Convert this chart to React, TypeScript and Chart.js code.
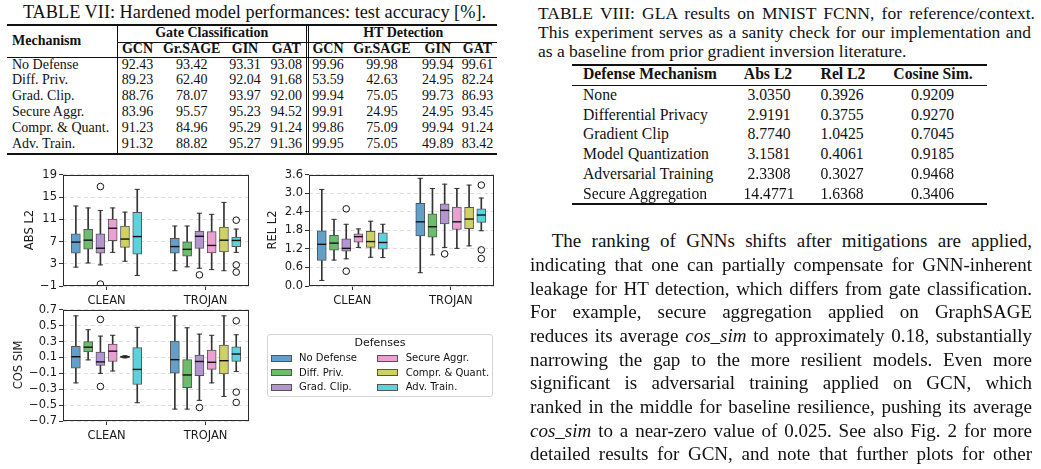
import React, { useEffect, useRef } from 'react';
import { Chart, registerables } from 'chart.js';
Chart.register(...registerables);

// ---------------- DATA ----------------
const groups = ['CLEAN', 'TROJAN'];
const defenses = ['No Defense', 'Diff. Priv.', 'Grad. Clip.', 'Secure Aggr.', 'Compr. & Quant.', 'Adv. Train.'];

// five-number summaries per defense: [lowWhisker, q1, median, q3, highWhisker]
const absL2Clean = [
  [2.4, 4.9, 6.9, 8.4, 13.4],
  [3.15, 5.65, 7.25, 9.2, 13.05],
  [2.8, 4.9, 5.8, 8.4, 12.6],
  [5.05, 7.15, 9.4, 11.05, 13.05],
  [3.45, 5.95, 7.45, 9.8, 12.3],
  [0.9, 4.75, 7.9, 12.25, 16.4],
];
const absL2Trojan = [
  [1.75, 4.9, 6.1, 7.6, 9.8],
  [2.45, 4.35, 5.6, 6.95, 9.8],
  [2.2, 5.75, 7.95, 8.9, 12.1],
  [1.95, 4.95, 6.3, 8.8, 11.9],
  [1.75, 5.15, 7.25, 9.6, 14.05],
  [5.05, 6.1, 7.2, 7.8, 9.25],
];
const absL2OutliersClean = [[], [], [16.9, -0.65], [], [], []];
const absL2OutliersTrojan = [[], [], [1.0], [], [], [10.85, 2.8, 1.5]];
const absL2Ticks = [-1, 3, 7, 11, 15, 19];

const relL2Clean = [
  [0.18, 0.83, 1.35, 1.79, 3.13],
  [0.84, 1.16, 1.39, 1.645, 2.16],
  [0.88, 1.13, 1.22, 1.53, 2.0],
  [1.25, 1.42, 1.6, 1.69, 1.85],
  [0.93, 1.25, 1.44, 1.77, 2.1],
  [0.92, 1.19, 1.41, 1.72, 2.0],
];
const relL2Trojan = [
  [0.43, 1.62, 2.08, 2.68, 3.49],
  [1.01, 1.58, 1.92, 2.34, 3.16],
  [1.25, 2.01, 2.45, 2.66, 3.3],
  [1.22, 1.83, 2.08, 2.56, 3.16],
  [1.3, 1.86, 2.17, 2.55, 3.27],
  [1.79, 2.06, 2.3, 2.5, 2.85],
];
const relL2OutliersClean = [[], [], [2.5, 0.48], [], [], []];
const relL2OutliersTrojan = [[], [], [1.04], [], [], [3.27, 1.17, 0.89]];
const relL2Ticks = [0, 0.6, 1.2, 1.8, 2.4, 3.0, 3.6];

const cosSimClean = [
  [-0.22, -0.035, 0.11, 0.24, 0.625],
  [0.07, 0.17, 0.23, 0.3, 0.45],
  [-0.1, 0.0, 0.045, 0.17, 0.37],
  [-0.07, 0.05, 0.18, 0.27, 0.38],
  [0.095, 0.1, 0.108, 0.117, 0.123],
  [-0.47, -0.24, -0.05, 0.225, 0.48],
];
const cosSimTrojan = [
  [-0.55, -0.098, 0.073, 0.307, 0.625],
  [-0.55, -0.28, -0.12, 0.073, 0.475],
  [-0.44, -0.13, 0.05, 0.13, 0.395],
  [-0.22, -0.05, 0.04, 0.194, 0.38],
  [-0.39, -0.106, 0.06, 0.257, 0.625],
  [-0.077, 0.052, 0.144, 0.236, 0.387],
];
const cosSimOutliersClean = [[], [], [0.58, -0.265], [], [], []];
const cosSimOutliersTrojan = [[], [], [-0.53], [], [], [0.562, -0.336, -0.466]];
const cosSimTicks = [-0.7, -0.5, -0.3, -0.1, 0.1, 0.3, 0.5, 0.7];

// Table VII
const table7Mechanisms = ['No Defense', 'Diff. Priv.', 'Grad. Clip.', 'Secure Aggr.', 'Compr. & Quant.', 'Adv. Train.'];
const table7Models = ['GCN', 'Gr.SAGE', 'GIN', 'GAT'];
const gateAccuracy = [
  [92.43, 93.42, 93.31, 93.08],
  [89.23, 62.4, 92.04, 91.68],
  [88.76, 78.07, 93.97, 92.0],
  [83.96, 95.57, 95.23, 94.52],
  [91.23, 84.96, 95.29, 91.24],
  [91.32, 88.82, 95.27, 91.36],
];
const htAccuracy = [
  [99.96, 99.98, 99.94, 99.61],
  [53.59, 42.63, 24.95, 82.24],
  [99.94, 75.05, 99.73, 86.93],
  [99.91, 24.95, 24.95, 93.45],
  [99.86, 75.09, 99.94, 91.24],
  [99.95, 75.05, 49.89, 83.42],
];

// Table VIII
const glaMechanisms = ['None', 'Differential Privacy', 'Gradient Clip', 'Model Quantization', 'Adversarial Training', 'Secure Aggregation'];
const glaAbsL2 = ['3.0350', '2.9191', '8.7740', '3.1581', '2.3308', '14.4771'];
const glaRelL2 = ['0.3926', '0.3755', '1.0425', '0.4061', '0.3027', '1.6368'];
const glaCosSim = ['0.9209', '0.9270', '0.7045', '0.9185', '0.9468', '0.3406'];

// ---------------- STYLE ----------------
const defenseColors = [
  'rgb(98,160,203)',
  'rgb(107,189,107)',
  'rgb(180,149,209)',
  'rgb(235,160,212)',
  'rgb(208,209,100)',
  'rgb(93,210,221)',
];
const serif = '"Liberation Serif","Times New Roman",serif';
const sans = '"DejaVu Sans",sans-serif';
const HUE_STEP = 0.124;
const X_MIN = -0.44;
const X_MAX = 1.44;

const framePlugin = {
  id: 'frame',
  afterDatasetsDraw(chart: any) {
    const { ctx, chartArea } = chart;
    const l = Math.round(chartArea.left) + 0.5;
    const t = Math.round(chartArea.top) + 0.5;
    const r = Math.round(chartArea.right) - 0.5;
    const b = Math.round(chartArea.bottom) - 0.5;
    ctx.save();
    ctx.strokeStyle = '#2a2a2a';
    ctx.lineWidth = 1;
    ctx.strokeRect(l, t, r - l, b - t);
    ctx.restore();
  },
};

function fmtTick(v: number, decimals: number) {
  const s = Math.abs(v).toFixed(decimals);
  return v < -1e-9 ? '\u2212' + s : s;
}

type Spec = {
  clean: number[][];
  trojan: number[][];
  outClean: number[][];
  outTrojan: number[][];
  ticks: number[];
  decimals: number;
};

function BoxPlot({ spec, left, top, width, height }: { spec: Spec; left: number; top: number; width: number; height: number }) {
  const ref = useRef<HTMLCanvasElement>(null);
  useEffect(() => {
    if (!ref.current) return;
    const stats = [spec.clean, spec.trojan];
    const outs = [spec.outClean, spec.outTrojan];
    const xOf = (g: number, d: number) => g + (d - 2.5) * HUE_STEP;
    const boxSets: any[] = defenses.map((name, d) => ({
      type: 'bar',
      label: name,
      order: 2,
      grouped: false,
      barThickness: 9,
      backgroundColor: defenseColors[d],
      borderColor: '#555555',
      borderWidth: 1,
      borderSkipped: false,
      data: stats.map((s, g) => ({ x: xOf(g, d), y: [s[d][1], s[d][3]] })),
    }));
    const whiskers: any = {
      type: 'bar',
      label: 'whiskers',
      order: 3,
      grouped: false,
      barThickness: 1,
      backgroundColor: '#333333',
      borderWidth: 0,
      data: stats.flatMap((s, g) => s.map((b, d) => ({ x: xOf(g, d), y: [b[0], b[4]] }))),
    };
    const caps: any = {
      type: 'scatter',
      label: 'caps',
      order: 1,
      pointStyle: 'line',
      pointRadius: 2.6,
      borderColor: '#333333',
      pointBorderColor: '#333333',
      pointBorderWidth: 1,
      data: stats.flatMap((s, g) => s.flatMap((b, d) => [{ x: xOf(g, d), y: b[0] }, { x: xOf(g, d), y: b[4] }])),
    };
    const medians: any = {
      type: 'scatter',
      label: 'medians',
      order: 0,
      pointStyle: 'line',
      pointRadius: 4.5,
      borderColor: '#111111',
      pointBorderColor: '#111111',
      pointBorderWidth: 1.4,
      data: stats.flatMap((s, g) => s.map((b, d) => ({ x: xOf(g, d), y: b[2] }))),
    };
    const fliers: any = {
      type: 'scatter',
      label: 'outliers',
      order: 0,
      pointStyle: 'circle',
      pointRadius: 3.3,
      borderColor: '#111111',
      pointBorderColor: '#111111',
      pointBorderWidth: 1,
      pointBackgroundColor: 'rgba(255,255,255,0)',
      backgroundColor: 'rgba(255,255,255,0)',
      data: outs.flatMap((o, g) => o.flatMap((vals, d) => vals.map((v) => ({ x: xOf(g, d), y: v })))),
    };
    const tickFont = { family: 'DejaVu Sans', size: 11.5 };
    const chart = new Chart(ref.current, {
      type: 'bar',
      data: { datasets: [...boxSets, whiskers, caps, medians, fliers] },
      options: {
        animation: false,
        responsive: false,
        events: [],
        layout: { padding: { top: 8, right: 3, bottom: 0, left: 0 } },
        plugins: { legend: { display: false }, tooltip: { enabled: false } },
        scales: {
          x: {
            type: 'linear',
            min: X_MIN,
            max: X_MAX,
            offset: false,
            afterBuildTicks: (s: any) => {
              s.ticks = groups.map((_, i) => ({ value: i }));
            },
            afterFit: (s: any) => {
              s.height = 24;
            },
            ticks: {
              autoSkip: false,
              maxRotation: 0,
              padding: 4,
              color: '#1a1a1a',
              font: tickFont,
              callback: (v: any) => groups[Math.round(Number(v))] ?? '',
            },
            grid: { drawOnChartArea: false, drawTicks: true, tickLength: 4, tickColor: '#333333', offset: false },
            border: { display: false },
          },
          y: {
            type: 'linear',
            min: spec.ticks[0],
            max: spec.ticks[spec.ticks.length - 1],
            afterBuildTicks: (s: any) => {
              s.ticks = spec.ticks.map((v) => ({ value: v }));
            },
            afterFit: (s: any) => {
              s.width = 55;
            },
            ticks: {
              autoSkip: false,
              padding: 2,
              color: '#1a1a1a',
              font: tickFont,
              callback: (v: any) => fmtTick(Number(v), spec.decimals),
            },
            grid: { color: '#d6d6d6', lineWidth: 0.8, drawTicks: true, tickLength: 4, tickColor: '#333333', tickWidth: 1 },
            border: { display: false, dash: [4, 3] },
          },
        },
      } as any,
      plugins: [framePlugin],
    });
    return () => chart.destroy();
  }, [spec]);
  return (
    <canvas
      ref={ref}
      width={width}
      height={height}
      style={{ position: 'absolute', left, top, width, height }}
    />
  );
}

function Txt({ x, y, size, children, bold = false, align = 'left', w = 0, family = serif, indent = 0 }: any) {
  const lh = size * 1.2;
  const style: any = {
    position: 'absolute',
    top: y - lh / 2,
    fontSize: size,
    lineHeight: lh + 'px',
    fontFamily: family,
    fontWeight: bold ? 700 : 400,
    color: '#111',
    whiteSpace: 'nowrap',
  };
  if (align === 'left') style.left = x;
  else if (align === 'center') {
    style.left = x - 300;
    style.width = 600;
    style.textAlign = 'center';
  } else if (align === 'justify') {
    style.left = x;
    style.width = w;
    style.textAlign = 'justify';
    style.textAlignLast = 'justify';
    style.whiteSpace = 'normal';
    style.textIndent = indent;
  }
  return <div style={style}>{children}</div>;
}

function VLabel({ x, y, text }: any) {
  return (
    <div
      style={{
        position: 'absolute',
        left: x - 60,
        top: y - 8,
        width: 120,
        height: 16,
        lineHeight: '16px',
        textAlign: 'center',
        fontFamily: sans,
        fontSize: 11.5,
        color: '#1a1a1a',
        transform: 'rotate(-90deg)',
        whiteSpace: 'nowrap',
      }}
    >
      {text}
    </div>
  );
}

function HRule({ x1, x2, y, t }: any) {
  return <div style={{ position: 'absolute', left: x1, width: x2 - x1, top: y - t / 2, height: t, background: '#111' }} />;
}
function VRule({ x, y1, y2, t }: any) {
  return <div style={{ position: 'absolute', left: x - t / 2, width: t, top: y1, height: y2 - y1, background: '#111' }} />;
}

const absSpec: Spec = { clean: absL2Clean, trojan: absL2Trojan, outClean: absL2OutliersClean, outTrojan: absL2OutliersTrojan, ticks: absL2Ticks, decimals: 0 };
const relSpec: Spec = { clean: relL2Clean, trojan: relL2Trojan, outClean: relL2OutliersClean, outTrojan: relL2OutliersTrojan, ticks: relL2Ticks, decimals: 1 };
const cosSpec: Spec = { clean: cosSimClean, trojan: cosSimTrojan, outClean: cosSimOutliersClean, outTrojan: cosSimOutliersTrojan, ticks: cosSimTicks, decimals: 1 };

const t7Cols = [137.5, 191.7, 245, 286.3, 328, 382, 437.8, 477.5];
const t7Rows = [65.7, 80.7, 96.7, 112.3, 128.3, 144];
const t8Rows = [95, 115, 134.3, 154, 174, 194.3];

const bodyLines: any[] = [
  'The ranking of GNNs shifts after mitigations are applied,',
  'indicating that one can partially compensate for GNN-inherent',
  'leakage for HT detection, which differs from gate classification.',
  'For example, secure aggregation applied on GraphSAGE',
  <>reduces its average <i>cos_sim</i> to approximately 0.18, substantially</>,
  'narrowing the gap to the more resilient models. Even more',
  'significant is adversarial training applied on GCN, which',
  'ranked in the middle for baseline resilience, pushing its average',
  <><i>cos_sim</i> to a near-zero value of 0.025. See also Fig. 2 for more</>,
  'detailed results for GCN, and note that further plots for other',
];
const bodyY = [241.7, 265.3, 289, 312.7, 336.3, 360, 383.7, 407.3, 431, 454.7];

export default function App() {
  return (
    <div style={{ position: 'fixed', left: 0, top: 0, width: 1041, height: 469, background: '#fff', overflow: 'hidden' }}>
      {/* TABLE VII */}
      <Txt x={254.5} y={13} size={18.3} align="center">TABLE VII: Hardened model performances: test accuracy [%].</Txt>
      <HRule x1={7} x2={497} y={25} t={1.3} />
      <Txt x={12} y={41} size={14} bold>Mechanism</Txt>
      <Txt x={211.7} y={33} size={14} bold align="center">Gate Classification</Txt>
      <Txt x={403.3} y={33} size={14} bold align="center">HT Detection</Txt>
      <HRule x1={117} x2={497} y={42} t={0.8} />
      {[...table7Models, ...table7Models].map((m, i) => (
        <Txt key={'h' + i} x={t7Cols[i]} y={49.3} size={14} bold align="center">{m}</Txt>
      ))}
      <HRule x1={7} x2={497} y={57.3} t={0.8} />
      {table7Mechanisms.map((m, r) => (
        <React.Fragment key={'r' + r}>
          <Txt x={12} y={t7Rows[r]} size={14}>{m}</Txt>
          {[...gateAccuracy[r], ...htAccuracy[r]].map((v, c) => (
            <Txt key={c} x={t7Cols[c]} y={t7Rows[r]} size={14} align="center">{v.toFixed(2)}</Txt>
          ))}
        </React.Fragment>
      ))}
      <HRule x1={7} x2={497} y={154} t={1.3} />
      <VRule x={117} y1={25} y2={154} t={0.8} />
      <VRule x={306} y1={25} y2={154} t={0.8} />
      <VRule x={308.3} y1={25} y2={154} t={0.8} />

      {/* Plots */}
      <BoxPlot spec={absSpec} left={8} top={166} width={247} height={144} />
      <BoxPlot spec={relSpec} left={254} top={166} width={246} height={144} />
      <BoxPlot spec={cosSpec} left={8} top={301} width={247} height={144} />
      <VLabel x={28.5} y={230} text="ABS L2" />
      <VLabel x={272} y={230} text="REL L2" />
      <VLabel x={17.7} y={365} text="COS SIM" />

      {/* Legend */}
      <div style={{ position: 'absolute', left: 267, top: 334, width: 226, height: 63, border: '1px solid #d4d4d4', borderRadius: 3, boxSizing: 'border-box' }} />
      <Txt x={380} y={343} size={11} family={sans} align="center">Defenses</Txt>
      {defenses.map((d, i) => {
        const col = Math.floor(i / 3);
        const row = i % 3;
        const y = [358, 372.7, 387][row];
        const px = col === 0 ? 271 : 377;
        const tx = col === 0 ? 299 : 405.7;
        return (
          <React.Fragment key={'lg' + i}>
            <div style={{ position: 'absolute', left: px, top: y - 3.5, width: 21, height: 7, background: defenseColors[i], border: '1px solid #555', boxSizing: 'border-box' }} />
            <Txt x={tx} y={y} size={10} family={sans}>{d}</Txt>
          </React.Fragment>
        );
      })}

      {/* TABLE VIII caption */}
      <Txt x={538} y={13.3} size={17.5} align="justify" w={497}>TABLE VIII: GLA results on MNIST FCNN, for reference/context.</Txt>
      <Txt x={538} y={32.5} size={17.5} align="justify" w={493}>This experiment serves as a sanity check for our implementation and</Txt>
      <Txt x={538} y={51.7} size={17.5}>as a baseline from prior gradient inversion literature.</Txt>
      <HRule x1={572} x2={987} y={65} t={1.3} />
      <Txt x={583} y={74} size={15.7} bold>Defense Mechanism</Txt>
      <Txt x={768} y={74} size={15.7} bold align="center">Abs L2</Txt>
      <Txt x={843} y={74} size={15.7} bold align="center">Rel L2</Txt>
      <Txt x={933} y={74} size={15.7} bold align="center">Cosine Sim.</Txt>
      <HRule x1={572} x2={987} y={85} t={0.8} />
      {glaMechanisms.map((m, r) => (
        <React.Fragment key={'g' + r}>
          <Txt x={583} y={t8Rows[r]} size={15.7}>{m}</Txt>
          <Txt x={769} y={t8Rows[r]} size={15.7} align="center">{glaAbsL2[r]}</Txt>
          <Txt x={842} y={t8Rows[r]} size={15.7} align="center">{glaRelL2[r]}</Txt>
          <Txt x={932.5} y={t8Rows[r]} size={15.7} align="center">{glaCosSim[r]}</Txt>
        </React.Fragment>
      ))}
      <HRule x1={572} x2={987} y={204} t={1.3} />

      {/* Body text */}
      {bodyLines.map((ln, i) => (
        <Txt key={'b' + i} x={530} y={bodyY[i]} size={19} align="justify" w={502} indent={i === 0 ? 21.7 : 0}>{ln}</Txt>
      ))}
    </div>
  );
}
